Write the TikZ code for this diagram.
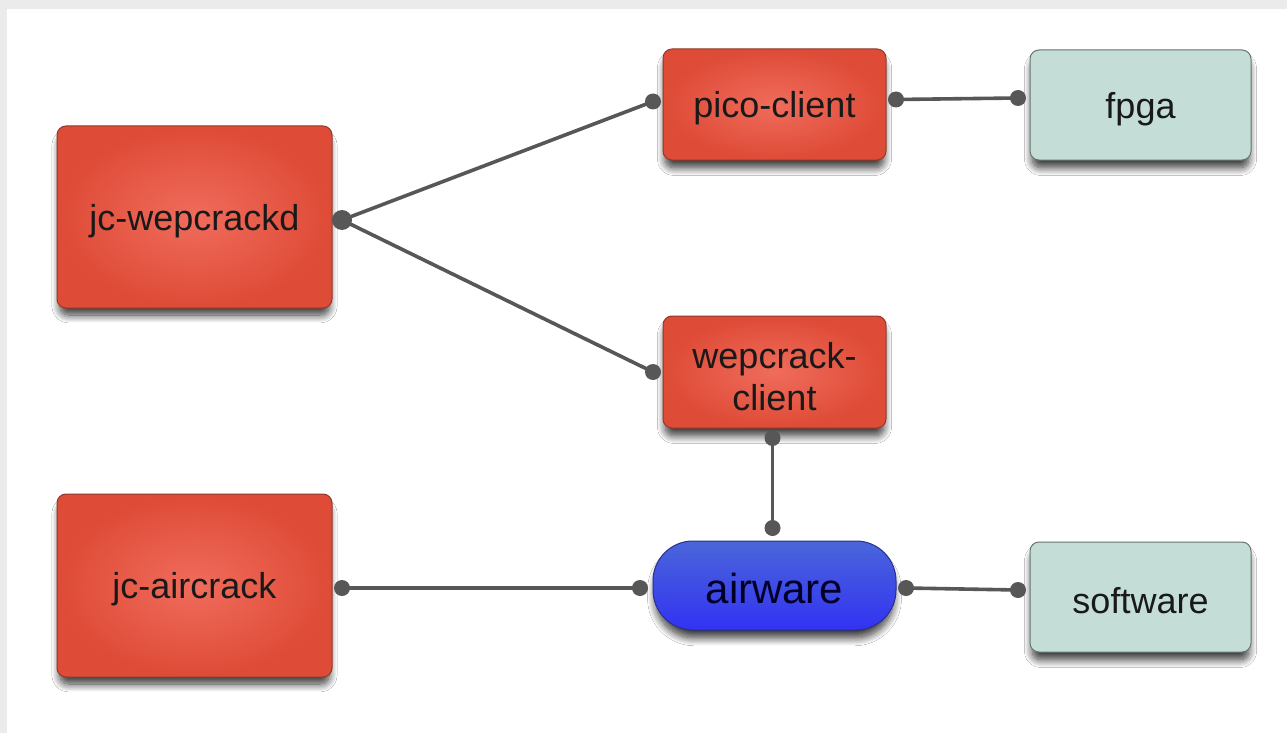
\documentclass[tikz,border=0pt]{standalone}
\usepackage{fontspec}
\setmainfont{Liberation Sans}
\usetikzlibrary{shadows.blur}

\definecolor{redIn}{HTML}{F06C5C}
\definecolor{redOut}{HTML}{DE4B36}
\definecolor{redEdge}{HTML}{8E3A2C}
\definecolor{blueTop}{HTML}{4A66DA}
\definecolor{blueBot}{HTML}{3232F2}
\definecolor{blueEdge}{HTML}{2A2F8A}
\definecolor{tealFill}{HTML}{C4DDD6}
\definecolor{tealEdge}{HTML}{66756F}
\definecolor{wire}{HTML}{575757}
\definecolor{frame}{HTML}{EBEBEB}

% lower a label inside its node without changing the node's size
\newcommand{\lowered}[2][4pt]{\raisebox{-#1}[\height][\depth]{#2}}

\tikzset{
  box/.style={rectangle, rounded corners=9pt, inner sep=0pt, outer sep=0pt,
    align=center, font=\fontsize{36}{42}\selectfont, text=black!90,
    blur shadow={shadow xshift=0pt, shadow yshift=-9pt, shadow scale=0.98,
      shadow blur radius=8pt, shadow blur steps=12, shadow opacity=80}},
  redbox/.style={box, draw=redEdge, line width=1pt, inner color=redIn, outer color=redOut},
  tealbox/.style={box, draw=tealEdge, line width=1pt, fill=tealFill},
  pill/.style={box, rounded corners=40pt, draw=blueEdge, line width=1pt,
    top color=blueTop, bottom color=blueBot, font=\fontsize{42}{48}\selectfont, text=black!85!blue},
  wireline/.style={draw=wire, line width=3.6pt},
  dot/.style={circle, fill=wire, inner sep=0pt, minimum size=16pt},
}

\begin{document}
\begin{tikzpicture}[x=1pt, y=-1pt]
  % page frame
  \fill[frame] (0,0) rectangle (1287,733);
  \fill[white] (7,9) rectangle (1287,733);
  \useasboundingbox (0,0) rectangle (1287,733);

  % components
  \node[redbox, minimum width=275pt, minimum height=182pt] (wd) at (194.5,217) {\lowered{jc-wepcrackd}};
  \node[redbox, minimum width=275pt, minimum height=183pt] (ac) at (194.5,585.5) {\lowered{jc-aircrack}};
  \node[redbox, minimum width=223pt, minimum height=111pt] (pc) at (774.5,104.5) {\lowered{pico-client}};
  \node[redbox, minimum width=223pt, minimum height=112pt] (wc) at (774.5,372) {\lowered[5pt]{wepcrack-}\\\lowered[5pt]{client}};
  \node[tealbox, minimum width=221pt, minimum height=110pt] (fp) at (1140.5,105) {\lowered{fpga}};
  \node[tealbox, minimum width=221pt, minimum height=110pt] (sw) at (1140.5,597) {\lowered{software}};
  \node[pill, minimum width=243pt, minimum height=89pt] (aw) at (774.5,585.5) {\lowered[3pt]{airware}};

  % connector end points
  \coordinate (wdE) at ([xshift=10pt, yshift=-3pt]wd.east);
  \coordinate (pcW) at ([xshift=-10pt, yshift=3pt]pc.west);
  \coordinate (pcE) at ([xshift=10pt, yshift=5pt]pc.east);
  \coordinate (fpW) at ([xshift=-12pt, yshift=7pt]fp.west);
  \coordinate (wcW) at ([xshift=-10pt]wc.west);
  \coordinate (wcS) at ([xshift=-2pt, yshift=-10pt]wc.south);
  \coordinate (awN) at ([xshift=-2pt, yshift=13pt]aw.north);
  \coordinate (awW) at ([xshift=-13pt, yshift=-2.5pt]aw.west);
  \coordinate (awE) at ([xshift=10pt, yshift=-2.5pt]aw.east);
  \coordinate (acE) at ([xshift=10pt, yshift=-2.5pt]ac.east);
  \coordinate (swW) at ([xshift=-12pt, yshift=7pt]sw.west);

  % connectors
  \draw[wireline] (wdE) -- (pcW);
  \draw[wireline] (wdE) -- (wcW);
  \draw[wireline] (pcE) -- (fpW);
  \draw[wireline] (wcS) -- (awN);
  \draw[wireline] (acE) -- (awW);
  \draw[wireline] (awE) -- (swW);

  % port dots
  \node[dot, minimum size=20pt] at (wdE) {};
  \foreach \p in {pcW,pcE,fpW,wcW,wcS,awN,awW,awE,acE,swW}
    \node[dot] at (\p) {};
\end{tikzpicture}
\end{document}
